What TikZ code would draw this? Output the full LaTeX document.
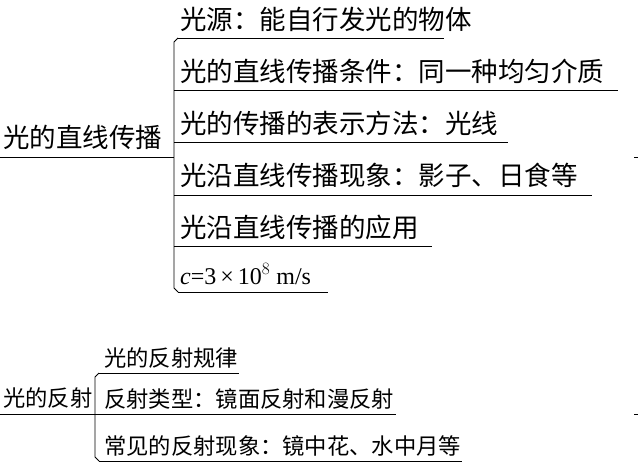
\documentclass[tikz,border=0pt]{standalone}
\usepackage{fontspec}
\setmainfont{Liberation Serif}
\newfontfamily\cjk{Noto Sans CJK SC}[Scale=1]
\begin{document}
\begin{tikzpicture}[x=1pt,y=-1pt,
  lab/.style={anchor=base west,inner sep=0pt,font=\cjk\fontsize{26.5}{28}\selectfont},
  labs/.style={anchor=base west,inner sep=0pt,font=\cjk\fontsize{22.3}{24}\selectfont},
  ln/.style={line width=0.9pt}]
\useasboundingbox (0,0) rectangle (640,473);
% top group
\node[lab] (m1) at (3,148) {光的直线传播};
\draw[ln] (0,157) -- (172,157);
\draw[ln] (178,38) -- (174,42) -- (174,288) -- (178,292);
\node[lab] (a1) at (180,30) {光源：能自行发光的物体};
\node[lab] (a2) at (180,82) {光的直线传播条件：同一种均匀介质};
\node[lab] (a3) at (180,134) {光的传播的表示方法：光线};
\node[lab] (a4) at (180,186) {光沿直线传播现象：影子、日食等};
\node[lab] (a5) at (180,238) {光沿直线传播的应用};
\node[anchor=base west,inner sep=0pt,font=\fontsize{24}{26}\selectfont] (a6) at (180,284) {\textit{c}=3\,\texttimes\,10$^{8}$ m/s};
\draw[ln] (178,38) -- (444,38);
\draw[ln] (174,90) -- (618,90);
\draw[ln] (174,142) -- (508,142);
\draw[ln] (172,157) -- (174,157);
\draw[ln] (174,195) -- (592,195);
\draw[ln] (174,246) -- (432,246);
\draw[ln] (178,292) -- (328,292);
% bottom group
\node[labs] (m2) at (3,406) {光的反射};
\draw[ln] (0,414) -- (95,414);
\draw[ln] (99,373) -- (95,377) -- (95,457) -- (99,461);
\node[labs] (b1) at (104,366) {光的反射规律};
\node[labs] (b2) at (104,407) {反射类型：镜面反射和漫反射};
\node[labs] (b3) at (104,454) {常见的反射现象：镜中花、水中月等};
\draw[ln] (99,373) -- (239,373);
\draw[ln] (95,414) -- (396,414);
\draw[ln] (99,461) -- (462,461);
% small marks
\draw[line width=0.6pt] (634,157) -- (638,157);
\draw[line width=0.6pt] (634,414) -- (638,414);
\end{tikzpicture}
\end{document}
